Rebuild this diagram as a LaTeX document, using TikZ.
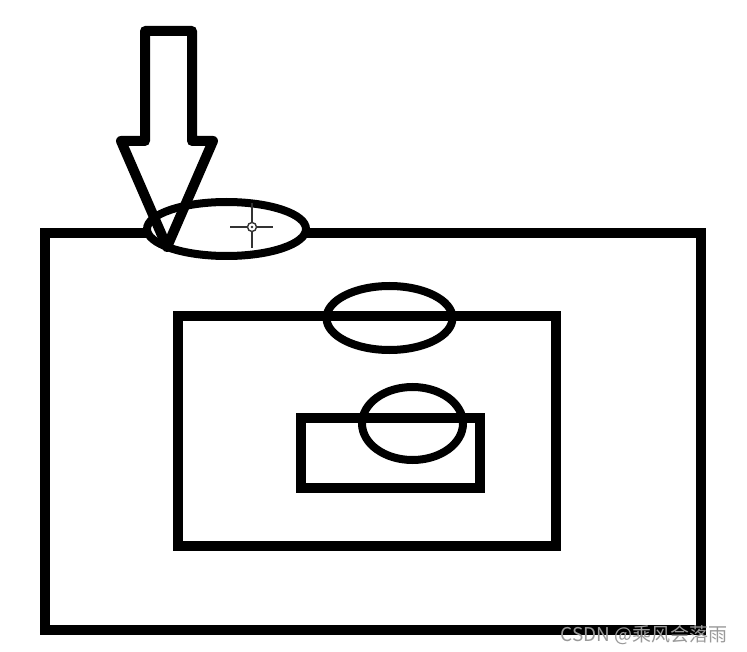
\documentclass[tikz,border=0pt]{standalone}
\usepackage{fontspec}
\usepackage{tikz}
\usetikzlibrary{calc}
\newfontfamily\cjk{Noto Sans CJK SC}

\begin{document}
\begin{tikzpicture}[x=1pt, y=-1pt,
  frame/.style={draw=black, line width=10pt},
  ring/.style={draw=black, line width=8pt},
  arrowshape/.style={draw=black, line width=10pt, line join=round},
  cursor/.style={draw=black!80, line width=1.4pt},
  mark text/.style={text=black!40, font=\cjk\fontsize{19}{19}\selectfont, anchor=base east}]
\useasboundingbox (0,0) rectangle (747,652);
% boxes, outer to inner
\draw[frame] (45,233) rectangle (701,630);
\draw[frame] (178,316) rectangle (556,546);
\draw[frame] (301,418) rectangle (480,488);
% ellipses sitting on the top edges (the top one hides the edge)
\draw[ring, fill=white] (226.5,229) ellipse [x radius=79.5, y radius=27];
\draw[ring] (389.5,318) ellipse [x radius=63, y radius=32];
\draw[ring] (412.5,423.5) ellipse [x radius=50.5, y radius=36.5];
% big arrow pointing down
\draw[arrowshape] (145,31) -- (192,31) -- (192,141) -- (213,141)
  -- (167,247) -- (121,141) -- (145,141) -- cycle;
% cursor mark
\coordinate (cur) at (252,227);
\draw[cursor] (cur) circle [radius=4.5];
\fill[black!80] (cur) circle [radius=1.3];
\draw[cursor] ($(cur)+(-22,0)$) -- ($(cur)+(-5,0)$);
\draw[cursor] ($(cur)+(5,0)$) -- ($(cur)+(21,0)$);
\draw[cursor] ($(cur)+(0,-24)$) -- ($(cur)+(0,-5)$);
\draw[cursor] ($(cur)+(0,5)$) -- ($(cur)+(0,21)$);
% watermark
\node[mark text] (wm) at (731,641) {CSDN @乘风会落雨};
\end{tikzpicture}
\end{document}
